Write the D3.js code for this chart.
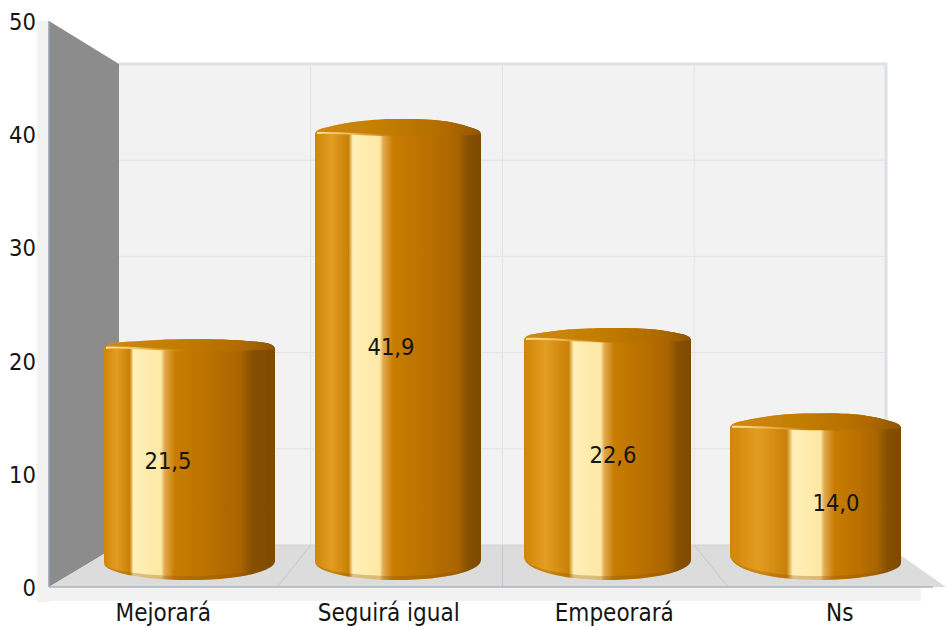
<!DOCTYPE html>
<html><head><meta charset="utf-8">
<script src="https://cdn.jsdelivr.net/npm/d3@7"></script>
<style>html,body{margin:0;padding:0;background:#fff}svg{display:block}text{font-family:"DejaVu Sans Condensed","DejaVu Sans",sans-serif;font-stretch:condensed;fill:#151515}</style>
</head><body><svg id="c" width="946" height="630"></svg>
<script>
const categories=["Mejorará","Seguirá igual","Empeorará","Ns"];
const values=[21.5,41.9,22.6,14.0];
const valueLabels=["21,5","41,9","22,6","14,0"];
const yTicks=[0,10,20,30,40,50];

// scales: the 3D box has a front plane and a back plane, bars stand between them
const front=d3.scaleLinear().domain([0,50]).range([587,21]);
const back=d3.scaleLinear().domain([0,50]).range([545,64]);
const barY=d3.scaleLinear().domain([0,41.9]).range([574,129]);
const xFront=d3.scaleBand().domain(categories).range([51.5,953.5]);
const xBack=d3.scaleBand().domain(categories).range([119,886]);

// perspective layout of each cylinder
const barLeft=[104,315,524,730], barRight=[275,481,691,901];
const capRise=[7,12.5,9.5,12];
const topOffset=[6.5,10,6,12];
const botLeft=[563,562,557,555], botRight=[561,560,560,563];
const hiStart=[.164,.22,.29,.36], darkStart=[.84,.9,.9,.9];
const labelDX=[-21.5,-7,5.5,20.5], labelY=[461,347,455,503];

const svg=d3.select("#c");
const defs=svg.append("defs");
defs.append("filter").attr("id","soft").append("feGaussianBlur").attr("stdDeviation",.5);

categories.forEach((c,i)=>{
  const h=hiStart[i],d=darkStart[i];
  const st=[[0,"#d08606"],[h*.45,"#e39d24"],[h*.92,"#c98006"],[h+.008,"#fff0b8"],[h+.17,"#fde8a4"],[h+.19,"#e4ab52"],[h+.25,"#c87c02"],[(h+.25+d)/2,"#b97000"],[d-.04,"#a96400"],[d+.02,"#875000"],[1,"#7d4a00"]];
  const g=defs.append("linearGradient").attr("id","body"+i).attr("x1",0).attr("x2",1).attr("y1",0).attr("y2",0);
  st.forEach(s=>g.append("stop").attr("offset",s[0]).attr("stop-color",s[1]));
  const k=defs.append("linearGradient").attr("id","hl"+i).attr("x1",0).attr("x2",1).attr("y1",0).attr("y2",0);
  [[0,"#fbe3a0",1],[.3,"#f3c667",.9],[.75,"#e0a030",0]].forEach(s=>k.append("stop").attr("offset",s[0]).attr("stop-color",s[1]).attr("stop-opacity",s[2]));
});
const capG=defs.append("linearGradient").attr("id","cap").attr("x1",0).attr("x2",1).attr("y1",0).attr("y2",0);
[[0,"#d08a10"],[.45,"#c27c02"],[.8,"#b06a00"],[1,"#8f5500"]].forEach(s=>capG.append("stop").attr("offset",s[0]).attr("stop-color",s[1]));

// outer light frame
svg.append("rect").attr("x",37).attr("y",21).attr("width",12).attr("height",581).attr("fill","#f2f2f2");
svg.append("rect").attr("x",49).attr("y",587).attr("width",872).attr("height",14).attr("fill","#f2f2f2");

// back wall
svg.append("rect").attr("x",119).attr("y",64).attr("width",767).attr("height",481).attr("fill","#f2f2f2");
const gridC="#e1e3e6";
svg.selectAll(".hg").data(yTicks.slice(1,-1)).enter().append("line")
  .attr("x1",119).attr("x2",886).attr("y1",d=>back(d)).attr("y2",d=>back(d)).attr("stroke",gridC);
svg.selectAll(".vg").data(categories.slice(1)).enter().append("line")
  .attr("x1",d=>xBack(d)).attr("x2",d=>xBack(d)).attr("y1",64).attr("y2",545).attr("stroke",gridC);
svg.append("path").attr("d","M119 64H886V545").attr("fill","none").attr("stroke","#dbe1e8").attr("stroke-width",3);

// side wall
svg.append("path").attr("d",`M49 ${front(50)}L119 ${back(50)}V${back(0)}L49 ${front(0)}Z`).attr("fill","#8c8c8c");
svg.append("line").attr("x1",49).attr("x2",49).attr("y1",front(50)).attr("y2",front(0)).attr("stroke","#98a3b0").attr("stroke-width",1.6);

// floor
svg.append("path").attr("d",`M119 ${back(0)}H886L946 ${front(0)}H49Z`).attr("fill","#dcdcdc");
svg.selectAll(".fg").data(categories.slice(1)).enter().append("line")
  .attr("x1",d=>xBack(d)).attr("x2",d=>xFront(d)).attr("y1",back(0)).attr("y2",front(0)).attr("stroke","#c4c7cb");
svg.append("line").attr("x1",119).attr("x2",886).attr("y1",back(0)).attr("y2",back(0)).attr("stroke","#cfd1d4");
svg.append("line").attr("x1",49).attr("x2",933).attr("y1",front(0)).attr("y2",front(0)).attr("stroke","#a9b4c1").attr("stroke-width",1.5);

// cylinders
categories.forEach((c,i)=>{
  const l=barLeft[i],r=barRight[i],w=r-l,cx=(l+r)/2;
  const topEdge=barY(values[i])-topOffset[i];
  const s=topEdge+capRise[i];
  const bl=botLeft[i],br=botRight[i],bot=580;
  const g=svg.append("g").attr("filter","url(#soft)");
  const topArc=`M${l} ${s+3}Q${l} ${s-1} ${l+7} ${s-3}C${l+w*.25} ${topEdge+.5} ${l+w*.4} ${topEdge} ${cx} ${topEdge}C${r-w*.3} ${topEdge} ${r-w*.2} ${topEdge+.5} ${r-7} ${s-3}Q${r} ${s-1} ${r} ${s+3}`;
  const botCurve=(y)=>`C${r} ${br+(y-br)*.55} ${cx+w*.28} ${y} ${cx} ${y}C${cx-w*.28} ${y} ${l} ${bl+(y-bl)*.55} ${l} ${bl}`;
  g.append("path").attr("d",`${topArc}V${br}${botCurve(bot)}Z`).attr("fill",`url(#body${i})`);
  // bottom rim shading
  g.append("path").attr("d",`M${r} ${br}${botCurve(bot)}C${l} ${bl+(bot-4-bl)*.55} ${cx-w*.28} ${bot-4} ${cx} ${bot-4}C${cx+w*.28} ${bot-4} ${r} ${br+(bot-4-br)*.55} ${r} ${br}Z`).attr("fill","#8a5200").attr("opacity",.3);
  // cap
  const lower=s+3.5;
  g.append("path").attr("d",topArc+`C${r-w*.2} ${lower+1} ${r-w*.35} ${lower+2} ${cx} ${lower+1.5}C${l+w*.35} ${lower+1} ${l+w*.15} ${s+1} ${l} ${s+3}Z`).attr("fill","url(#cap)");
  g.append("path").attr("d",`M${l+2} ${s+1.5}C${l+w*.12} ${s+.5} ${l+w*.3} ${lower+.5} ${cx+w*.15} ${lower+1.5}`).attr("fill","none").attr("stroke",`url(#hl${i})`).attr("stroke-width",2);
  svg.append("text").attr("x",cx+labelDX[i]).attr("y",labelY[i]).attr("dy","0.36em").attr("text-anchor","middle").attr("font-size",23.5).text(valueLabels[i]);
});

// axes
const yg=svg.append("g").attr("transform","translate(49,0)").call(d3.axisLeft(front).tickValues(yTicks).tickSize(0));
yg.select(".domain").remove();
yg.attr("font-family",null).selectAll("text").attr("font-size",23.5).attr("x",-13).attr("dy","0.36em");
const xg=svg.append("g").attr("transform","translate(0,601)").call(d3.axisBottom(xFront).tickSize(0));
xg.select(".domain").remove();
xg.attr("font-family",null).selectAll("text").attr("font-size",24).attr("x",-1).attr("y",2).attr("dy","0.75em");
</script></body></html>
